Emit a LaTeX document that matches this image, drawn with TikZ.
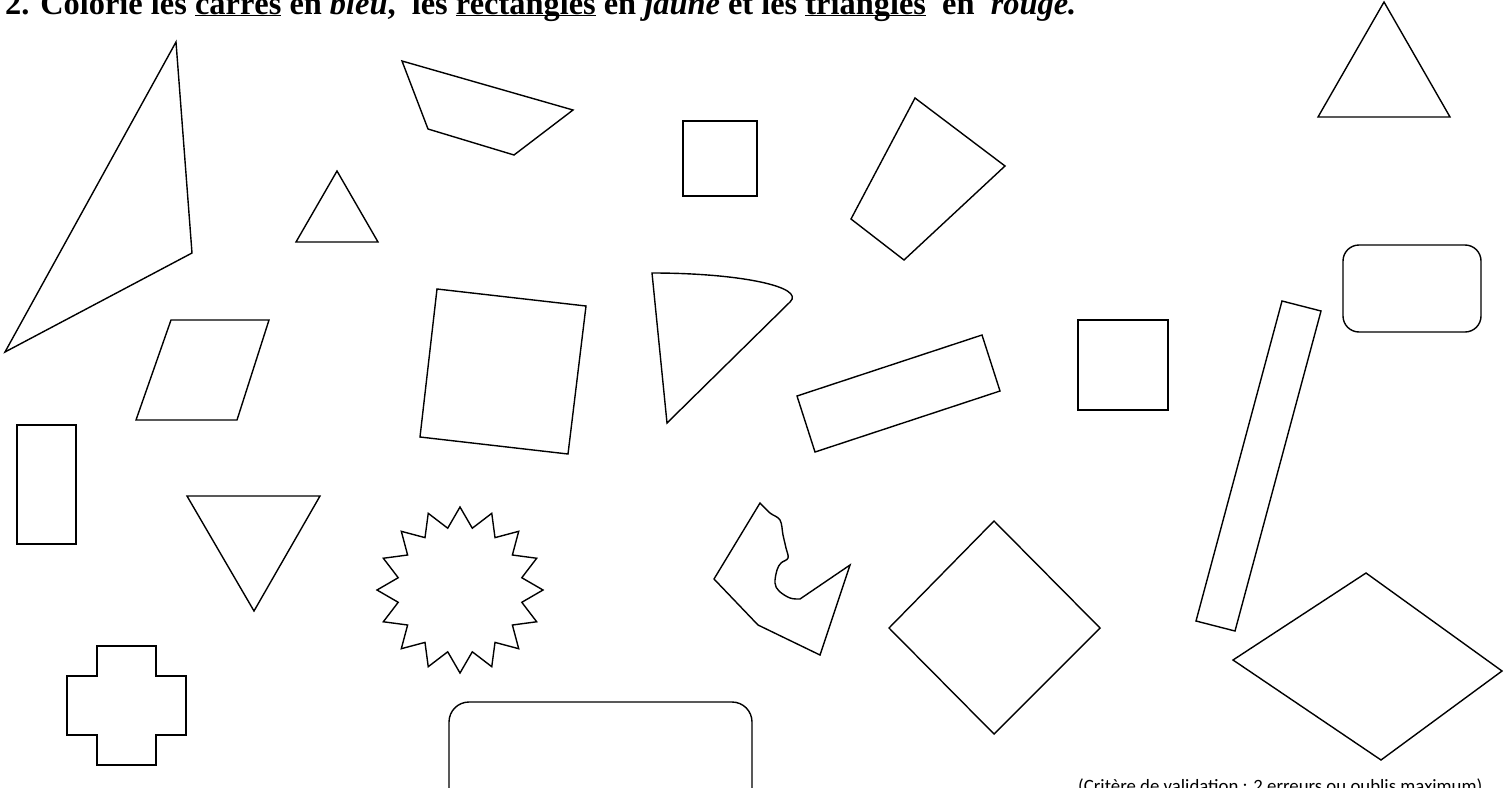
\documentclass[tikz,border=0pt]{standalone}
\usepackage{fontspec}
\setmainfont{Liberation Serif}
\newfontfamily\carlito{Carlito}

\newcommand{\souligne}[1]{\setbox0\hbox{#1}\rlap{\rule[-2.4pt]{\wd0}{1.8pt}}\box0\relax}

\begin{document}
\begin{tikzpicture}[
    x=1pt,
    y=-1pt,
    line cap=round,
    line join=miter,
]
\definecolor{trait}{HTML}{000000}

\tikzset{
    forme/.style={draw=trait,line width=1.4pt},
    formeforte/.style={draw=trait,line width=1.8pt},
    arrondi/.style={forme,rounded corners=16pt},
}

\useasboundingbox (0,0) rectangle (1511,787);

\node[anchor=base west,inner sep=0pt,font=\bfseries\fontsize{32.4}{34}\selectfont] (consigne) at (5,14)
    {2. Colorie les \souligne{carrés} en \textit{bleu},\ \ les \souligne{rectangles} en \textit{jaune} et les \souligne{triangles}\ \ en\ \ \textit{rouge.}};

\draw[forme] (176,42) -- (192,253) -- (5,352) -- cycle;
\draw[forme] (337,171) -- (378,242) -- (296,242) -- cycle;
\draw[forme] (402,61) -- (573,110) -- (514,155) -- (428,129) -- cycle;
\draw[formeforte] (683,121) rectangle (757,196);
\draw[forme] (915,98) -- (1005,166) -- (904,260) -- (851,219) -- cycle;
\draw[forme] (1384,2) -- (1450,117) -- (1318,117) -- cycle;
\draw[arrondi] (1343,245) rectangle (1481,332);

\draw[forme] (171,320) -- (269,320) -- (237,420) -- (136,420) -- cycle;
\draw[forme] (437,289) -- (586,306) -- (568,454) -- (420,437) -- cycle;
\draw[forme] (652,273) .. controls (740,273) and (806,287) .. (790,302) -- (667,423) -- cycle;
\draw[forme] (797,396) -- (982,335) -- (1000,391) -- (815,452) -- cycle;
\draw[formeforte] (1078,320) rectangle (1168,410);
\draw[forme] (1282,301) -- (1321,311) -- (1235,631) -- (1196,621) -- cycle;

\draw[forme] (17,425) rectangle (76,544);
\draw[forme] (187,496) -- (320,496) -- (254,611) -- cycle;
\draw[forme,shift={(460,590)}] (90:83)
    \foreach \k [evaluate=\k as \r using {isodd(\k) ? 63 : 83}] in {1,...,31} {
        -- ({90+\k*11.25}:\r)
    } -- cycle;
\draw[forme] (850,565) -- (820,655) -- (758,625) -- (714,579) -- (760,503)
    -- plot[smooth,tension=0.6] coordinates {(760,503) (770,513) (780,520) (783,535) (786,548) (788,558) (781,563) (777,570) (775,583) (779,591) (790,598) (800,599)}
    -- cycle;
\draw[forme] (994,521) -- (1100,628) -- (994,734) -- (889,628) -- cycle;
\draw[forme] (1366,573) -- (1502,671) -- (1381,760) -- (1233,660) -- cycle;

\draw[forme] (97,646) -- (156,646) -- (156,676) -- (186,676) -- (186,735) -- (156,735)
    -- (156,765) -- (97,765) -- (97,735) -- (67,735) -- (67,676) -- (97,676) -- cycle;
\draw[arrondi,rounded corners=20pt] (449,702) rectangle (752,810);

\node[anchor=base west,inner sep=0pt,font=\carlito\fontsize{18.8}{20}\selectfont] (critere) at (1078,792)
    {(Critère de validation : 2 erreurs ou oublis maximum)};
\end{tikzpicture}
\end{document}
